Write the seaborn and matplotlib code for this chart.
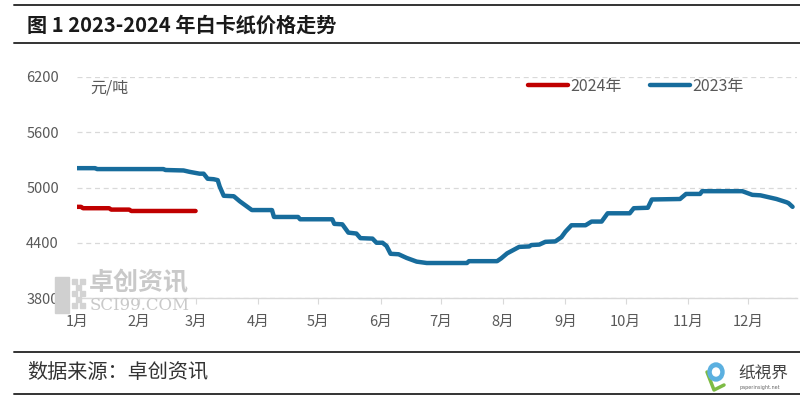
import matplotlib
matplotlib.use("Agg")
import matplotlib.pyplot as plt
import matplotlib.patches as mpatches
from matplotlib.lines import Line2D
import seaborn as sns
import pandas as pd

# ---------------- data ----------------
title = "图 1 2023-2024 年白卡纸价格走势"
unit = "元/吨"
source = "数据来源：卓创资讯"
series_2023_name = "2023年"
series_2024_name = "2024年"

dates_2023 = ["2023-01-01", "2023-01-10", "2023-01-11", "2023-02-13", "2023-02-14", "2023-02-23",
              "2023-02-26", "2023-03-03", "2023-03-05", "2023-03-07", "2023-03-10", "2023-03-12",
              "2023-03-13", "2023-03-15", "2023-03-20", "2023-03-23", "2023-03-29", "2023-04-08",
              "2023-04-09", "2023-04-21", "2023-04-22", "2023-05-08", "2023-05-09", "2023-05-13",
              "2023-05-16", "2023-05-20", "2023-05-22", "2023-05-28", "2023-05-30", "2023-06-02",
              "2023-06-04", "2023-06-06", "2023-06-10", "2023-06-14", "2023-06-19", "2023-06-24",
              "2023-07-14", "2023-07-15", "2023-07-29", "2023-07-31", "2023-08-03", "2023-08-06",
              "2023-08-09", "2023-08-14", "2023-08-15", "2023-08-19", "2023-08-22", "2023-08-27",
              "2023-08-30", "2023-09-01", "2023-09-04", "2023-09-11", "2023-09-14", "2023-09-19",
              "2023-09-22", "2023-10-03", "2023-10-05", "2023-10-12", "2023-10-14", "2023-10-28",
              "2023-10-31", "2023-11-07", "2023-11-08", "2023-11-28", "2023-12-03", "2023-12-07",
              "2023-12-15", "2023-12-20", "2023-12-21", "2023-12-23"]
prices_2023 = [5210, 5210, 5200, 5200, 5190, 5185, 5170, 5150, 5150, 5095, 5090, 5080,
               5010, 4910, 4905, 4850, 4755, 4755, 4680, 4680, 4655, 4655, 4605, 4600,
               4510, 4500, 4450, 4445, 4400, 4400, 4365, 4280, 4275, 4235, 4195, 4180,
               4180, 4200, 4200, 4230, 4285, 4320, 4355, 4360, 4375, 4380, 4410, 4415,
               4460, 4520, 4590, 4590, 4630, 4630, 4720, 4720, 4775, 4780, 4870, 4875,
               4930, 4930, 4960, 4960, 4920, 4915, 4875, 4840, 4830, 4790]

dates_2024 = ["2024-01-01", "2024-01-03", "2024-01-04", "2024-01-17", "2024-01-18",
              "2024-01-27", "2024-01-28", "2024-02-29"]
prices_2024 = [4790, 4790, 4775, 4775, 4760, 4760, 4745, 4745]

month_labels = ["1月", "2月", "3月", "4月", "5月", "6月", "7月", "8月", "9月", "10月", "11月", "12月"]
month_start_days = [0, 31, 59, 90, 120, 151, 181, 212, 243, 273, 304, 334]
y_ticks = [3800, 4400, 5000, 5600, 6200]

# ---------------- styling ----------------
sns.set_theme(style="white")
plt.rcParams["font.family"] = ["Noto Sans CJK SC", "DejaVu Sans"]

BLUE = "#176C9C"
RED = "#C00000"
GRAY_TXT = "#595959"
GRID = "#D9D9D9"

df23 = pd.DataFrame({"date": pd.to_datetime(dates_2023), "price": prices_2023})
df23["day"] = df23["date"].dt.dayofyear - 1
df24 = pd.DataFrame({"date": pd.to_datetime(dates_2024), "price": prices_2024})
df24["day"] = df24["date"].dt.dayofyear - 1

W, H = 800, 397
fig = plt.figure(figsize=(W / 100, H / 100), dpi=100)
ax = fig.add_axes([77 / W, 1 - 298 / H, 720 / W, 221 / H])

sns.lineplot(data=df23, x="day", y="price", ax=ax, color=BLUE, lw=3.2,
             solid_capstyle="round", solid_joinstyle="round", zorder=4)
sns.lineplot(data=df24, x="day", y="price", ax=ax, color=RED, lw=3.2,
             solid_capstyle="round", solid_joinstyle="round", zorder=5)

ax.set_xlim(0, 720 / 2.01)
ax.set_ylim(3800, 6200)
ax.set_xlabel("")
ax.set_ylabel("")

ax.set_yticks(y_ticks)
ax.set_yticklabels([str(v) for v in y_ticks])
ax.set_xticks(month_start_days)
ax.set_xticklabels(month_labels)

for s in ["top", "right", "left"]:
    ax.spines[s].set_visible(False)
ax.spines["bottom"].set_color(GRID)
ax.spines["bottom"].set_linewidth(1.0)

ax.yaxis.grid(True, color=GRID, lw=0.9, linestyle=(0, (4, 3)))
ax.xaxis.grid(False)
ax.tick_params(axis="y", length=0, pad=13, labelsize=10.5, labelcolor=GRAY_TXT)
ax.tick_params(axis="x", length=4, width=0.8, color=GRID, direction="out",
               pad=8, labelsize=10.5, labelcolor=GRAY_TXT, bottom=True)

# unit label
fig.text(90 / W, 1 - 88 / H, unit, fontsize=11.5, color=GRAY_TXT, va="center", ha="left")

# legend
handles = [Line2D([0], [0], color=RED, lw=3.2, solid_capstyle="round"),
           Line2D([0], [0], color=BLUE, lw=3.2, solid_capstyle="round")]
leg = fig.legend(handles, [series_2024_name, series_2023_name], loc="center left",
                 bbox_to_anchor=(528 / W, 1 - 86 / H), ncol=2, frameon=False,
                 fontsize=11.5, handlelength=2.5, handletextpad=0.15, columnspacing=1.75,
                 borderaxespad=0, borderpad=0)
for t in leg.get_texts():
    t.set_color(GRAY_TXT)

# watermark
wm = "#C9C9C9"
fig.text(89 / W, 1 - 283 / H, "卓创资讯", fontsize=18, color=wm, va="center", ha="left",
         fontweight="bold", zorder=0)
fig.text(90 / W, 1 - 306 / H, "SCI99.COM", fontsize=12, color=wm, va="center", ha="left",
         family=["DejaVu Serif"], zorder=0)
fig.patches.append(mpatches.Rectangle((55 / W, 1 - 313 / H), 14 / W, 36 / H,
                                      transform=fig.transFigure, color="#D0D0D0", zorder=0))
for (px, py) in [(72, 279), (80, 279), (76, 285), (72, 291), (80, 291), (76, 297), (72, 303), (80, 303)]:
    fig.patches.append(mpatches.Rectangle((px / W, 1 - (py + 5) / H), 5 / W, 5 / H,
                                          transform=fig.transFigure, color="#D3D3D3", zorder=0))

# header rules and title
fig.add_artist(Line2D([14 / W, 1], [1 - 5 / H, 1 - 5 / H], color="#333333", lw=1.4,
                      transform=fig.transFigure))
fig.add_artist(Line2D([14 / W, 1], [1 - 43 / H, 1 - 43 / H], color="#333333", lw=1.4,
                      transform=fig.transFigure))
fig.text(27 / W, 1 - 25 / H, title, fontsize=14.5, fontweight="bold", color="#1A1A1A",
         va="center", ha="left")

# footer rules and source
fig.add_artist(Line2D([14 / W, 1], [1 - 352 / H, 1 - 352 / H], color="#333333", lw=1.4,
                      transform=fig.transFigure))
fig.add_artist(Line2D([14 / W, 1], [1 - 394 / H, 1 - 394 / H], color="#333333", lw=1.4,
                      transform=fig.transFigure))
fig.text(27 / W, 1 - 373 / H, source, fontsize=14.5, color="#333333", va="center", ha="left")

# bottom-right logo
fig.patches.append(mpatches.Ellipse((716 / W, 1 - 372 / H), 16 / W, 18 / H,
                                    transform=fig.transFigure, color="#5BB0E0", zorder=3))
fig.patches.append(mpatches.Ellipse((716 / W, 1 - 372 / H), 7 / W, 8 / H,
                                    transform=fig.transFigure, color="white", zorder=4))
fig.add_artist(Line2D([707 / W, 714 / W, 724 / W], [1 - 372 / H, 1 - 390 / H, 1 - 385 / H],
                      color="#7DBB45", lw=2.5, transform=fig.transFigure))
fig.text(738 / W, 1 - 373 / H, "纸視界", fontsize=12, color="#444444", va="center", ha="left")
fig.text(740 / W, 1 - 388 / H, "paperinsight.net", fontsize=3.5, color="#666666",
         va="center", ha="left", family=["DejaVu Sans"])

fig.savefig("out.png", dpi=100)
